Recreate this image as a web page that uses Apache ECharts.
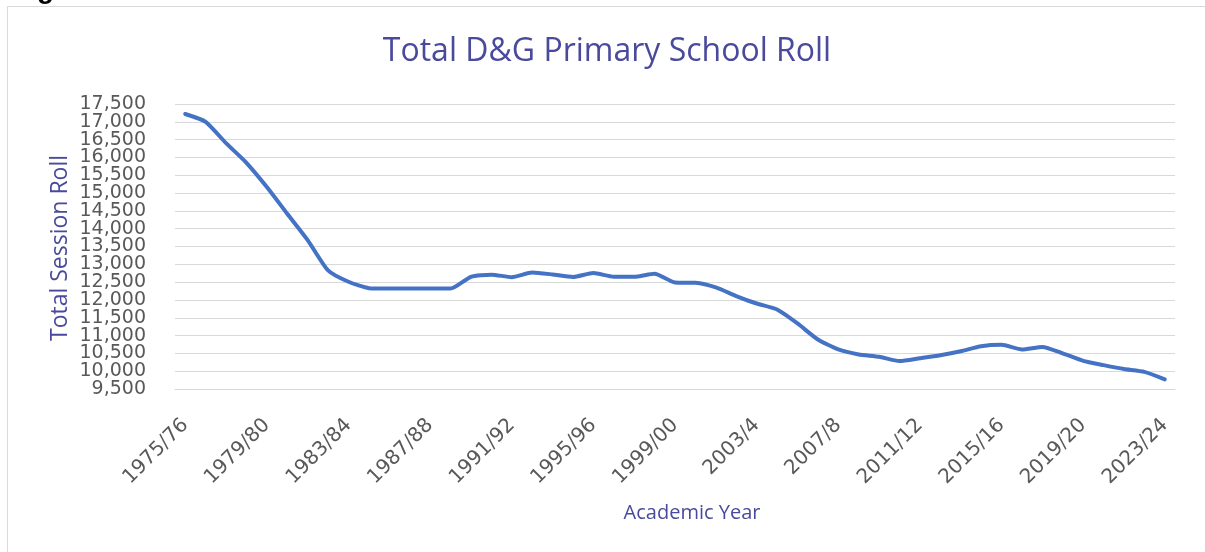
<!DOCTYPE html>
<html>
<head>
<meta charset="utf-8">
<script src="https://cdn.jsdelivr.net/npm/echarts@6/dist/echarts.min.js"></script>
<style>
  html, body { margin: 0; padding: 0; background: #ffffff; }
  #chart { width: 1205px; height: 552px; }
</style>
</head>
<body>
<div id="chart"></div>
<script>
const years = [
  "1975/76","1976/77","1977/78","1978/79","1979/80","1980/81","1981/82","1982/83",
  "1983/84","1984/85","1985/86","1986/87","1987/88","1988/89","1989/90","1990/91",
  "1991/92","1992/93","1993/94","1994/95","1995/96","1996/97","1997/98","1998/99",
  "1999/00","2000/1","2001/2","2002/3","2003/4","2004/5","2005/6","2006/7",
  "2007/8","2008/9","2009/10","2010/11","2011/12","2012/13","2013/14","2014/15",
  "2015/16","2016/17","2017/18","2018/19","2019/20","2020/21","2021/22","2022/23",
  "2023/24"
];
const sessionRoll = [
  17220, 17000, 16400, 15850, 15170, 14420, 13680, 12830,
  12510, 12330, 12320, 12320, 12320, 12320, 12650, 12710,
  12640, 12770, 12715, 12645, 12755, 12650, 12650, 12735,
  12490, 12480, 12350, 12110, 11900, 11730, 11340, 10890,
  10610, 10470, 10405, 10285, 10365, 10450, 10560, 10700,
  10740, 10610, 10680, 10500, 10290, 10170, 10060, 9980,
  9770
];
const yMin = 9500, yMax = 17500, yStep = 500;
const chartTitle = "Total D&G Primary School Roll";
const yAxisTitle = "Total Session Roll";
const xAxisTitle = "Academic Year";

const yLabelStyle = {
  margin: 29, fontFamily: 'DejaVu Sans', fontSize: 19, color: '#595959',
  formatter: v => v.toLocaleString('en-US')
};

const chart = echarts.init(document.getElementById('chart'), null, { renderer: 'canvas' });
chart.setOption({
  backgroundColor: '#ffffff',
  animation: false,
  graphic: [
    { type: 'rect', shape: { x: 7.5, y: 6.5, width: 1220, height: 570 },
      style: { fill: 'none', stroke: '#d9d9d9', lineWidth: 1 }, z: -1 },
    { type: 'text', left: 12, top: -24,
      style: { text: 'Figure 5', font: 'bold 28px "Liberation Sans"', fill: '#000000' } },
    { type: 'text', x: 607, y: 52,
      style: { text: chartTitle, font: '32px "Open Sans"', fill: '#4a4a9c',
               align: 'center', verticalAlign: 'middle' } },
    { type: 'text', x: 60, y: 248, rotation: Math.PI / 2,
      style: { text: yAxisTitle, font: '23px "Open Sans"', fill: '#4a4a9c',
               align: 'center', verticalAlign: 'middle' } },
    { type: 'text', x: 692, y: 513,
      style: { text: xAxisTitle, font: '20px "Open Sans"', fill: '#4a4a9c',
               align: 'center', verticalAlign: 'middle' } }
  ],
  grid: { left: 175, right: 30, top: 104, bottom: 163, containLabel: false },
  xAxis: {
    type: 'category',
    data: years,
    boundaryGap: true,
    axisLine: { show: true, lineStyle: { color: '#d9d9d9', width: 1 } },
    axisTick: { show: false },
    axisLabel: {
      interval: 3, rotate: 45, margin: 33, hideOverlap: false,
      fontFamily: 'DejaVu Sans', fontSize: 20, color: '#595959'
    },
    splitLine: { show: false }
  },
  yAxis: [
    {
      type: 'value', position: 'left',
      min: yMin, max: yMax, interval: yStep,
      axisLine: { show: false },
      axisTick: { show: false },
      axisLabel: Object.assign({ showMinLabel: false, showMaxLabel: false }, yLabelStyle),
      splitLine: { show: true, lineStyle: { color: '#d9d9d9', width: 1 } }
    },
    {
      type: 'value', position: 'left', offset: 0,
      min: yMin, max: yMax, interval: yMax - yMin,
      axisLine: { show: false },
      axisTick: { show: false },
      axisLabel: Object.assign({ showMinLabel: true, showMaxLabel: true }, yLabelStyle),
      splitLine: { show: false }
    }
  ],
  series: [{
    type: 'line',
    yAxisIndex: 0,
    data: sessionRoll,
    smooth: 0.2,
    showSymbol: false,
    symbol: 'none',
    lineStyle: { color: '#4472c4', width: 4, cap: 'round', join: 'round' }
  }]
});
</script>
</body>
</html>
